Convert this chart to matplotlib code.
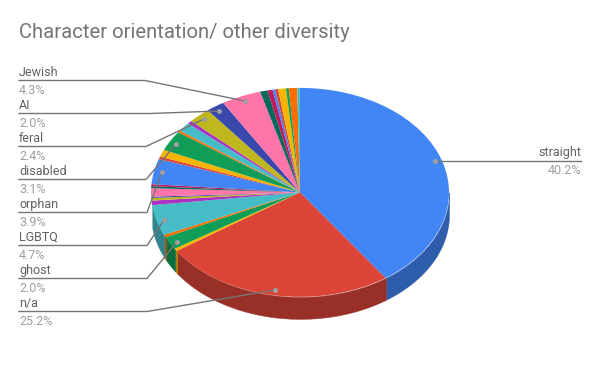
import matplotlib
matplotlib.use("Agg")
import matplotlib.pyplot as plt
import numpy as np
from matplotlib.colors import to_rgb

plt.rcParams["font.family"] = ["Roboto", "DejaVu Sans"]

title = "Character orientation/ other diversity"

# clockwise from 12 o'clock, only the bigger ones have a label in the picture
values = [40.2, 25.2, 0.4, 2.0, 0.4, 4.7, 0.7, 0.4, 0.2, 1.3, 0.3, 0.3,
          3.9, 0.4, 1.1, 3.1, 0.3, 1.4, 0.5, 2.4, 2.0, 4.3,
          0.8, 0.55, 0.3, 0.3, 0.85, 0.3, 0.9, 0.3]
colors = ["#4285F4", "#DB4437", "#F4B400", "#0F9D58", "#FF6D01", "#46BDC6", "#AB30C4", "#BFB71E", "#3949AB", "#FF74A9", "#00695C", "#C2185B",
          "#4285F4", "#DB4437", "#F4B400", "#0F9D58", "#FF6D01", "#46BDC6", "#AB30C4", "#BFB71E", "#3949AB", "#FF74A9",
          "#00695C", "#C2185B", "#4285F4", "#DB4437", "#F4B400", "#0F9D58", "#FF6D01", "#46BDC6"]

left_names = ["Jewish", "AI", "feral", "disabled", "orphan", "LGBTQ", "ghost", "n/a"]
left_pcts = ["4.3%", "2.0%", "2.4%", "3.1%", "3.9%", "4.7%", "2.0%", "25.2%"]
right_name = "straight"
right_pct = "40.2%"

# pixel spots of the leader lines
left_y = [80.5, 113.5, 146.5, 179.5, 212.5, 245.5, 278.5, 311.5]
elbow_x = [145, 150, 146, 146, 147, 147, 147, 147]
dots = [(245, 101), (219, 111), (204, 119), (176, 144), (162, 172), (164, 220), (177, 242), (275, 290)]

W, H = 600, 371
cx, cy, rx, ry, depth = 300, 192.4, 149, 104.5, 22

fig = plt.figure(figsize=(W / 100, H / 100), dpi=100)
ax = fig.add_axes([0, 0, 1, 1])

# side wall, the reference stops it at the top of the LGBTQ slice
d = depth / ry
wall_end = sum(values[:6]) / 100 * 2 * np.pi
start = 0.0
for v, c in zip(values, colors):
    a0 = start / 100 * 2 * np.pi
    start += v
    a1 = start / 100 * 2 * np.pi
    a0, a1 = max(a0, np.pi / 2), min(a1, wall_end)
    if a1 <= a0:
        continue
    t = np.linspace(a0, a1, 60)
    dark = tuple(x * 0.7 for x in to_rgb(c))
    ax.fill_between(np.sin(t), np.cos(t), np.cos(t) - d, color=dark, lw=0.3, zorder=1)

wedges, _ = ax.pie(values, colors=colors, startangle=90, counterclock=False, radius=1,
                   wedgeprops={"linewidth": 0, "zorder": 2})
ax.set_aspect("auto")
ax.set_xlim(-cx / rx, (W - cx) / rx)
ax.set_ylim((cy - H) / ry, cy / ry)
ax.axis("off")

# overlay in pixels for labels
ov = fig.add_axes([0, 0, 1, 1])
ov.set_xlim(0, W)
ov.set_ylim(H, 0)
ov.axis("off")
ov.patch.set_alpha(0)

line_c = "#757575"
for i, name in enumerate(left_names):
    y = left_y[i]
    ov.plot([19, elbow_x[i], dots[i][0]], [y, y, dots[i][1]], color=line_c, lw=1.0, zorder=3)
    ov.plot(*dots[i], "o", ms=3.6, color="#9E9E9E", mew=0, zorder=4)
    ov.text(19, y - 1.8, name, fontsize=9, color="#616161", ha="left", va="bottom")
    ov.text(19, y + 3.4, left_pcts[i], fontsize=9, color="#9E9E9E", ha="left", va="top")

ov.plot([435, 581], [161, 161], color=line_c, lw=1.0, zorder=3)
ov.plot(435, 161, "o", ms=3.6, color="#9E9E9E", mew=0, zorder=4)
ov.text(581, 159.2, right_name, fontsize=9, color="#616161", ha="right", va="bottom")
ov.text(581, 164.4, right_pct, fontsize=9, color="#9E9E9E", ha="right", va="top")

ov.text(19, 32, title, fontsize=14.6, color="#757575", ha="left", va="center")

fig.savefig("out.png", dpi=100)
